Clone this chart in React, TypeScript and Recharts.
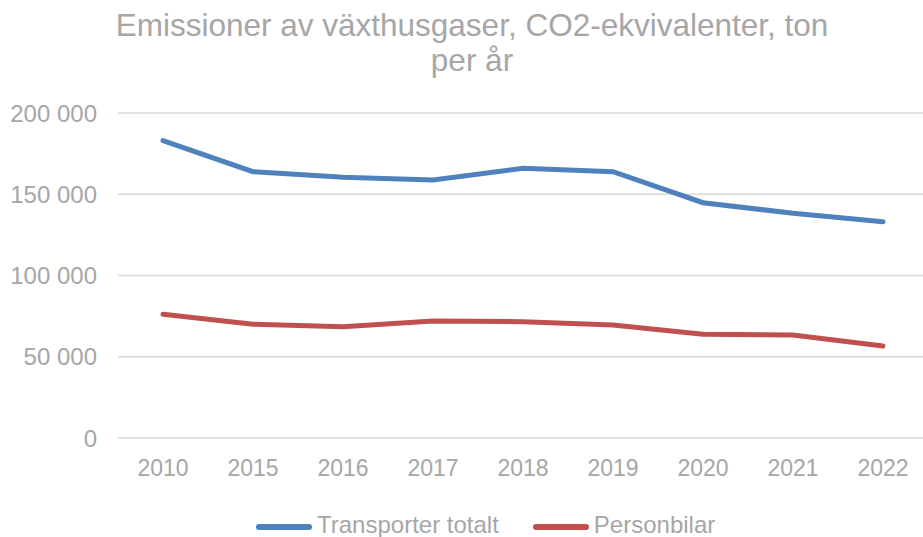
import { CartesianGrid, Line, LineChart, XAxis, YAxis } from "recharts"

const years = ["2010", "2015", "2016", "2017", "2018", "2019", "2020", "2021", "2022"]
const transporterTotalt = [183000, 163900, 160400, 158800, 166000, 163900, 144800, 138300, 133100]
const personbilar = [76100, 70000, 68500, 72000, 71600, 69500, 63800, 63400, 56600]
const yTicks = [0, 50000, 100000, 150000, 200000]

const seriesNames = ["Transporter totalt", "Personbilar"]
const seriesColors = ["#4f81bd", "#c0504d"]

const chartData = years.map((year, i) => ({
  year,
  total: transporterTotalt[i],
  cars: personbilar[i],
}))

const textColor = "#a6a6a6"
const font = "'Liberation Sans', Arial, sans-serif"

const formatTick = (v: number) => v.toString().replace(/\B(?=(\d{3})+(?!\d))/g, " ")

export default function App() {
  return (
    <div style={{ position: "absolute", left: 0, top: 0, width: 923, height: 537, background: "#fff", fontFamily: font }}>
      <div
        style={{
          position: "absolute",
          left: 72,
          top: 8,
          width: 800,
          textAlign: "center",
          fontSize: 31.5,
          lineHeight: "35px",
          color: textColor,
        }}
      >
        Emissioner av växthusgaser, CO2-ekvivalenter, ton
        <br />
        per år
      </div>
      <LineChart
        width={923}
        height={537}
        data={chartData}
        margin={{ top: 113, right: 0, left: 0, bottom: 59 }}
      >
        <CartesianGrid vertical={false} stroke="#d9d9d9" strokeWidth={1.5} />
        <XAxis
          dataKey="year"
          axisLine={false}
          tickLine={false}
          height={40}
          tickMargin={16}
          padding={{ left: 45, right: 40 }}
          tick={{ fill: textColor, fontSize: 23, fontFamily: font }}
        />
        <YAxis
          domain={[0, 200000]}
          ticks={yTicks}
          width={118}
          axisLine={false}
          tickLine={false}
          tickMargin={15}
          tickFormatter={formatTick}
          tick={{ fill: textColor, fontSize: 24, fontFamily: font }}
        />
        <Line
          type="linear"
          dataKey="total"
          name={seriesNames[0]}
          stroke={seriesColors[0]}
          strokeWidth={5}
          strokeLinecap="round"
          dot={false}
          isAnimationActive={false}
        />
        <Line
          type="linear"
          dataKey="cars"
          name={seriesNames[1]}
          stroke={seriesColors[1]}
          strokeWidth={5}
          strokeLinecap="round"
          dot={false}
          isAnimationActive={false}
        />
      </LineChart>
      <div
        style={{
          position: "absolute",
          left: 256,
          top: 511,
          display: "flex",
          alignItems: "center",
          fontSize: 24,
          lineHeight: "28px",
          color: textColor,
        }}
      >
        {seriesNames.map((name, i) => (
          <div key={name} style={{ display: "flex", alignItems: "center", marginRight: 34 }}>
            <span
              style={{
                display: "inline-block",
                width: 56,
                height: 6,
                borderRadius: 3,
                background: seriesColors[i],
                marginRight: 5,
                marginTop: 4,
              }}
            />
            <span>{name}</span>
          </div>
        ))}
      </div>
    </div>
  )
}
